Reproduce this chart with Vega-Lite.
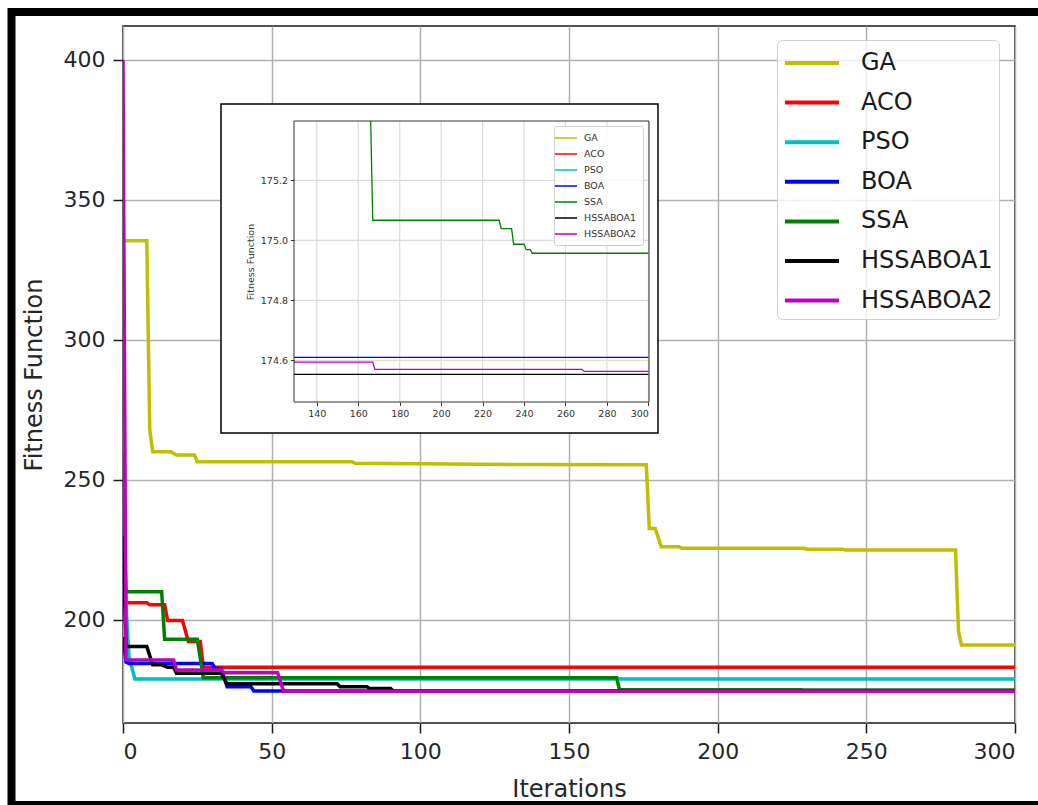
{
  "$schema": "https://vega.github.io/schema/vega-lite/v6.json",
  "width": 892,
  "height": 697,
  "autosize": {"type": "none"},
  "padding": {"left": 123, "top": 26, "right": 23, "bottom": 82},
  "background": "white",
  "config": {
    "font": "DejaVu Sans",
    "view": {"stroke": "#1a1a1a", "strokeWidth": 1.5}
  },
  "datasets": {
    "conv": [
      {"alg": "GA", "it": 0, "f": 335.4}, {"alg": "GA", "it": 8, "f": 335.4}, {"alg": "GA", "it": 9, "f": 268},
      {"alg": "GA", "it": 10, "f": 260.1}, {"alg": "GA", "it": 16, "f": 260.1}, {"alg": "GA", "it": 18, "f": 258.9},
      {"alg": "GA", "it": 24, "f": 258.9}, {"alg": "GA", "it": 25, "f": 256.5}, {"alg": "GA", "it": 77, "f": 256.5},
      {"alg": "GA", "it": 78, "f": 256.0}, {"alg": "GA", "it": 100, "f": 255.8}, {"alg": "GA", "it": 130, "f": 255.5},
      {"alg": "GA", "it": 176, "f": 255.4}, {"alg": "GA", "it": 177, "f": 232.7}, {"alg": "GA", "it": 179, "f": 232.7},
      {"alg": "GA", "it": 181, "f": 226.2}, {"alg": "GA", "it": 187, "f": 226.2}, {"alg": "GA", "it": 188, "f": 225.6},
      {"alg": "GA", "it": 229, "f": 225.6}, {"alg": "GA", "it": 230, "f": 225.3}, {"alg": "GA", "it": 242, "f": 225.3},
      {"alg": "GA", "it": 243, "f": 225.0}, {"alg": "GA", "it": 280, "f": 225.0}, {"alg": "GA", "it": 281, "f": 195.8},
      {"alg": "GA", "it": 282, "f": 191.1}, {"alg": "GA", "it": 300, "f": 191.1},
      {"alg": "ACO", "it": 0, "f": 240}, {"alg": "ACO", "it": 1, "f": 206.2}, {"alg": "ACO", "it": 8, "f": 206.2},
      {"alg": "ACO", "it": 9, "f": 205.4}, {"alg": "ACO", "it": 14, "f": 205.4}, {"alg": "ACO", "it": 15, "f": 199.8},
      {"alg": "ACO", "it": 20, "f": 199.8}, {"alg": "ACO", "it": 22, "f": 192.3}, {"alg": "ACO", "it": 26, "f": 192.3},
      {"alg": "ACO", "it": 27, "f": 183.1}, {"alg": "ACO", "it": 300, "f": 183.1},
      {"alg": "PSO", "it": 0, "f": 225}, {"alg": "PSO", "it": 2, "f": 187}, {"alg": "PSO", "it": 4, "f": 178.9},
      {"alg": "PSO", "it": 300, "f": 178.9},
      {"alg": "BOA", "it": 0, "f": 194}, {"alg": "BOA", "it": 1, "f": 185}, {"alg": "BOA", "it": 2, "f": 184.5},
      {"alg": "BOA", "it": 30, "f": 184.5}, {"alg": "BOA", "it": 31, "f": 182.7}, {"alg": "BOA", "it": 33, "f": 182.7},
      {"alg": "BOA", "it": 35, "f": 176.2}, {"alg": "BOA", "it": 43, "f": 176.2}, {"alg": "BOA", "it": 44, "f": 174.61},
      {"alg": "BOA", "it": 129, "f": 174.61}, {"alg": "BOA", "it": 300, "f": 174.61},
      {"alg": "SSA", "it": 0, "f": 260}, {"alg": "SSA", "it": 1, "f": 210.1}, {"alg": "SSA", "it": 13, "f": 210.1},
      {"alg": "SSA", "it": 14, "f": 193.1}, {"alg": "SSA", "it": 25, "f": 193.1}, {"alg": "SSA", "it": 27, "f": 179.4},
      {"alg": "SSA", "it": 166, "f": 179.4}, {"alg": "SSA", "it": 167, "f": 175.067}, {"alg": "SSA", "it": 228, "f": 175.067},
      {"alg": "SSA", "it": 229, "f": 175.039}, {"alg": "SSA", "it": 234, "f": 175.039}, {"alg": "SSA", "it": 235, "f": 174.987},
      {"alg": "SSA", "it": 240, "f": 174.987}, {"alg": "SSA", "it": 241, "f": 174.969}, {"alg": "SSA", "it": 243, "f": 174.969},
      {"alg": "SSA", "it": 244, "f": 174.957}, {"alg": "SSA", "it": 300, "f": 174.957},
      {"alg": "HSSABOA1", "it": 0, "f": 230}, {"alg": "HSSABOA1", "it": 1, "f": 190.5}, {"alg": "HSSABOA1", "it": 8, "f": 190.5},
      {"alg": "HSSABOA1", "it": 10, "f": 184}, {"alg": "HSSABOA1", "it": 13, "f": 184}, {"alg": "HSSABOA1", "it": 15, "f": 183.1},
      {"alg": "HSSABOA1", "it": 17, "f": 183.1}, {"alg": "HSSABOA1", "it": 18, "f": 181}, {"alg": "HSSABOA1", "it": 33, "f": 181},
      {"alg": "HSSABOA1", "it": 35, "f": 177.2}, {"alg": "HSSABOA1", "it": 72, "f": 177.2}, {"alg": "HSSABOA1", "it": 73, "f": 176.2},
      {"alg": "HSSABOA1", "it": 82, "f": 176.2}, {"alg": "HSSABOA1", "it": 83, "f": 175.5}, {"alg": "HSSABOA1", "it": 90, "f": 175.5},
      {"alg": "HSSABOA1", "it": 91, "f": 174.553}, {"alg": "HSSABOA1", "it": 129, "f": 174.553}, {"alg": "HSSABOA1", "it": 300, "f": 174.553},
      {"alg": "HSSABOA2", "it": 0, "f": 400}, {"alg": "HSSABOA2", "it": 1, "f": 185.7}, {"alg": "HSSABOA2", "it": 17, "f": 185.7},
      {"alg": "HSSABOA2", "it": 18, "f": 182.1}, {"alg": "HSSABOA2", "it": 33, "f": 182.1}, {"alg": "HSSABOA2", "it": 34, "f": 181.2},
      {"alg": "HSSABOA2", "it": 52, "f": 181.2}, {"alg": "HSSABOA2", "it": 54, "f": 174.594}, {"alg": "HSSABOA2", "it": 129, "f": 174.594},
      {"alg": "HSSABOA2", "it": 167, "f": 174.594}, {"alg": "HSSABOA2", "it": 168, "f": 174.57}, {"alg": "HSSABOA2", "it": 268, "f": 174.57},
      {"alg": "HSSABOA2", "it": 269, "f": 174.563}, {"alg": "HSSABOA2", "it": 300, "f": 174.563}
    ],
    "gridX": [{"v": 140}, {"v": 160}, {"v": 180}, {"v": 200}, {"v": 220}, {"v": 240}, {"v": 260}, {"v": 280}, {"v": 300}],
    "gridY": [{"v": 174.6}, {"v": 174.8}, {"v": 175.0}, {"v": 175.2}]
  },
  "layer": [
    {
      "layer": [
        {
          "data": {"name": "conv"},
          "mark": {"type": "line", "strokeWidth": 3.5, "clip": true},
          "encoding": {
            "x": {
              "field": "it", "type": "quantitative",
              "scale": {"domain": [0, 300], "nice": false, "zero": false},
              "axis": {
                "values": [0, 50, 100, 150, 200, 250, 300], "title": "Iterations",
                "grid": true, "gridColor": "#b0b0b0", "gridWidth": 1.5, "domain": false,
                "tickSize": 10, "tickWidth": 1.5, "tickColor": "#1a1a1a",
                "labelFontSize": 22, "labelColor": "#262626", "labelPadding": 8,
                "titleFontSize": 24, "titleFontWeight": "normal", "titleColor": "#262626", "titlePadding": 15
              }
            },
            "y": {
              "field": "f", "type": "quantitative",
              "scale": {"domain": [163.21, 412.14], "nice": false, "zero": false},
              "axis": {
                "values": [200, 250, 300, 350, 400], "title": "Fitness Function",
                "grid": true, "gridColor": "#b0b0b0", "gridWidth": 1.5, "domain": false,
                "tickSize": 10, "tickWidth": 1.5, "tickColor": "#1a1a1a",
                "labelFontSize": 22, "labelColor": "#262626", "labelPadding": 8,
                "titleFontSize": 24, "titleFontWeight": "normal", "titleColor": "#262626", "titlePadding": 17
              }
            },
            "color": {
              "field": "alg", "type": "nominal",
              "scale": {
                "domain": ["GA", "ACO", "PSO", "BOA", "SSA", "HSSABOA1", "HSSABOA2"],
                "range": ["#bfbf00", "#ff0000", "#00bfbf", "#0000ff", "#008000", "#000000", "#bf00bf"]
              },
              "legend": {
                "orient": "none", "legendX": 654, "legendY": 14, "title": null,
                "symbolType": "M-1.8,0L1.8,0", "symbolSize": 900, "symbolStrokeWidth": 4, "symbolOffset": 12,
                "labelFontSize": 24, "labelColor": "#1a1a1a", "labelOffset": 32, "rowPadding": 10.6,
                "padding": 6, "fillColor": "rgba(255,255,255,0.8)", "strokeColor": "#d0d0d0", "cornerRadius": 5
              }
            }
          }
        },
        {
          "data": {"values": [{}]},
          "mark": {"type": "rect", "fill": null, "stroke": "#000000", "strokeWidth": 8, "clip": false},
          "encoding": {
            "x": {"datum": -37.5, "type": "quantitative"},
            "x2": {"datum": 311.8},
            "y": {"datum": 417.14, "type": "quantitative"},
            "y2": {"datum": 133.9}
          }
        }
      ]
    },
    {
      "data": {"values": [{}]},
      "mark": {"type": "rect", "fill": "white", "stroke": "#000000", "strokeWidth": 1.5, "clip": false},
      "encoding": {
        "x": {"datum": 93.78, "type": "quantitative", "scale": {"domain": [129, 300.3], "range": [171, 526], "nice": false, "zero": false}, "axis": null},
        "x2": {"datum": 304.64},
        "y": {"datum": 175.4547, "type": "quantitative", "scale": {"domain": [174.461, 175.398], "range": [376, 95], "nice": false, "zero": false}, "axis": null},
        "y2": {"datum": 174.3576}
      }
    },
    {
      "layer": [
        {
          "data": {"name": "gridX"},
          "mark": {"type": "rule", "stroke": "#dcdcdc", "strokeWidth": 1.2},
          "encoding": {
            "x": {"field": "v", "type": "quantitative", "scale": {"domain": [129, 300.3], "range": [171, 526], "nice": false, "zero": false, "clamp": true}},
            "y": {"datum": 174.461, "type": "quantitative", "scale": {"domain": [174.461, 175.398], "range": [376, 95], "nice": false, "zero": false, "clamp": true}},
            "y2": {"datum": 175.398}
          }
        },
        {
          "data": {"name": "gridY"},
          "mark": {"type": "rule", "stroke": "#dcdcdc", "strokeWidth": 1.2},
          "encoding": {
            "y": {"field": "v", "type": "quantitative", "scale": {"domain": [174.461, 175.398], "range": [376, 95], "nice": false, "zero": false, "clamp": true}},
            "x": {"datum": 129, "type": "quantitative", "scale": {"domain": [129, 300.3], "range": [171, 526], "nice": false, "zero": false, "clamp": true}},
            "x2": {"datum": 300.3}
          }
        },
        {
          "data": {"name": "conv"},
          "transform": [
            {"filter": {"field": "alg", "oneOf": ["BOA", "SSA", "HSSABOA1", "HSSABOA2"]}},
            {"filter": "datum.it >= 129"}
          ],
          "mark": {"type": "line", "strokeWidth": 1.3},
          "encoding": {
            "x": {
              "field": "it", "type": "quantitative",
              "scale": {"domain": [129, 300.3], "range": [171, 526], "nice": false, "zero": false, "clamp": true},
              "axis": {
                "orient": "bottom", "offset": -321, "zindex": 2, "values": [140, 160, 180, 200, 220, 240, 260, 280, 300],
                "title": null, "grid": false, "domain": false, "tickSize": 3.5, "tickColor": "#333333", "tickWidth": 1,
                "labelFontSize": 9.5, "labelColor": "#333333", "labelPadding": 3
              }
            },
            "y": {
              "field": "f", "type": "quantitative",
              "scale": {"domain": [174.461, 175.398], "range": [376, 95], "nice": false, "zero": false, "clamp": true},
              "axis": {
                "orient": "left", "offset": -171, "zindex": 2, "values": [174.6, 174.8, 175.0, 175.2], "format": ".1f",
                "title": "Fitness Function", "titleFontSize": 9.5, "titleFontWeight": "normal", "titleColor": "#333333", "titlePadding": 5,
                "grid": false, "domain": false, "tickSize": 3.5, "tickColor": "#333333", "tickWidth": 1,
                "labelFontSize": 9.5, "labelColor": "#333333", "labelPadding": 3
              }
            },
            "color": {
              "field": "alg", "type": "nominal",
              "scale": {
                "domain": ["GA", "ACO", "PSO", "BOA", "SSA", "HSSABOA1", "HSSABOA2"],
                "range": ["#bfbf00", "#ff0000", "#00bfbf", "#0000ff", "#008000", "#000000", "#bf00bf"]
              },
              "legend": {
                "orient": "none", "legendX": 431, "legendY": 100, "title": null,
                "symbolType": "M-2.2,0L2.2,0", "symbolSize": 100, "symbolStrokeWidth": 1.5,
                "labelFontSize": 9.5, "labelColor": "#333333", "labelOffset": 12, "rowPadding": 5,
                "padding": 6, "fillColor": "rgba(255,255,255,0.8)", "strokeColor": "#d0d0d0", "cornerRadius": 2
              }
            }
          }
        },
        {
          "data": {"values": [{}]},
          "mark": {"type": "rect", "fill": null, "stroke": "#333333", "strokeWidth": 1, "clip": false},
          "encoding": {
            "x": {"datum": 129, "type": "quantitative", "scale": {"domain": [129, 300.3], "range": [171, 526], "nice": false, "zero": false, "clamp": true}},
            "x2": {"datum": 300.3},
            "y": {"datum": 174.461, "type": "quantitative", "scale": {"domain": [174.461, 175.398], "range": [376, 95], "nice": false, "zero": false, "clamp": true}},
            "y2": {"datum": 175.398}
          }
        }
      ]
    }
  ],
  "resolve": {
    "scale": {"x": "independent", "y": "independent", "color": "independent"},
    "axis": {"x": "independent", "y": "independent"},
    "legend": {"color": "independent"}
  }
}
